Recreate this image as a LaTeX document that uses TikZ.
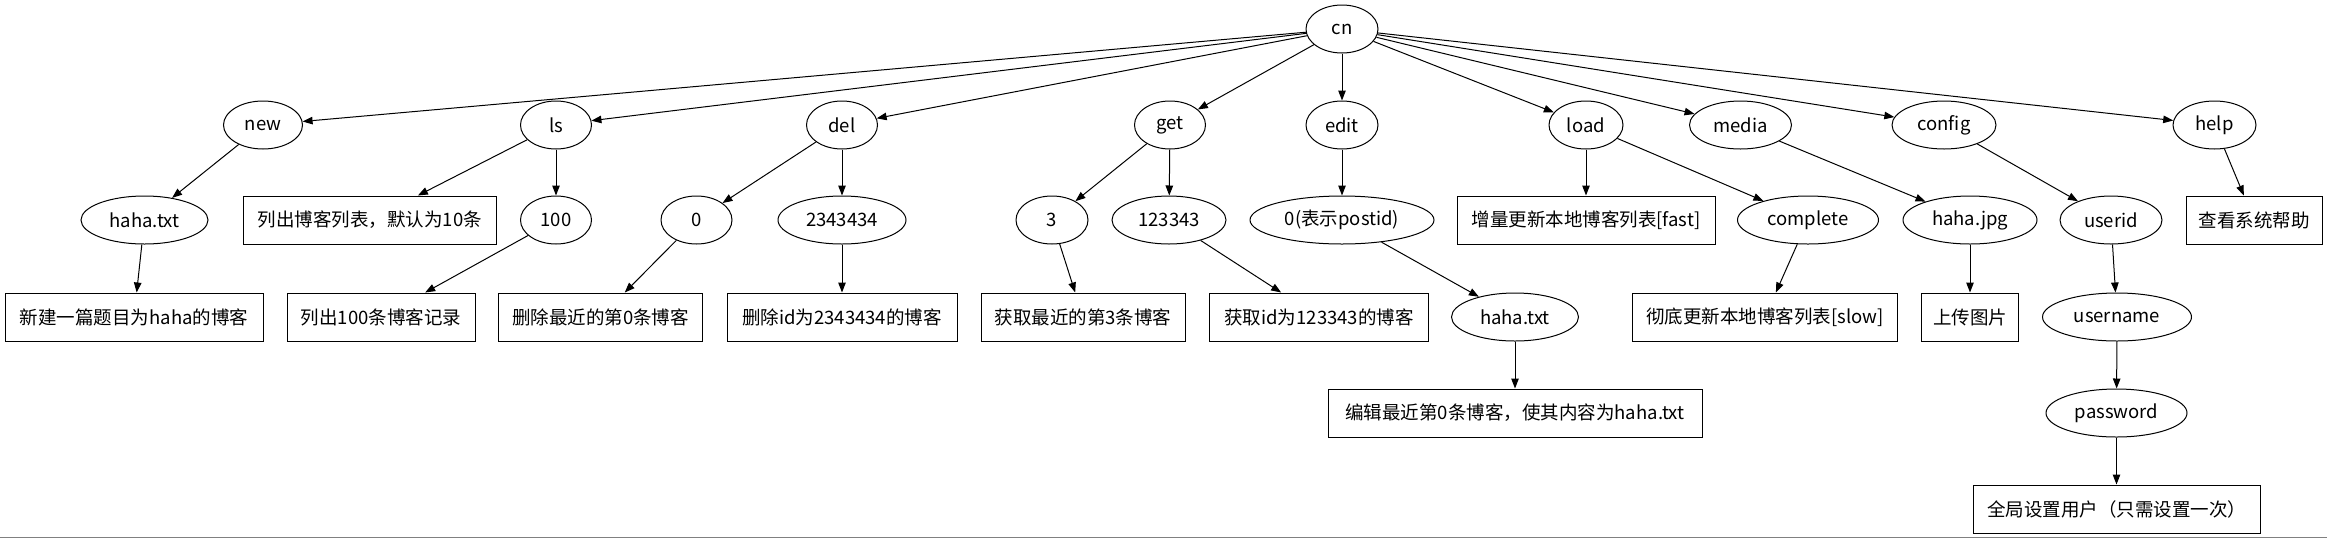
\documentclass[tikz,border=0pt]{standalone}
\usepackage{fontspec}
\setmainfont{Noto Sans CJK SC}
\usetikzlibrary{shapes.geometric,arrows.meta}
\begin{document}
\begin{tikzpicture}[x=1pt,y=-1pt,
  every node/.style={font=\fontsize{18.5}{20}\selectfont, line width=1pt, draw, inner sep=0pt, minimum height=48pt},
  ell/.style={ellipse, minimum width=#1},
  ell/.default=72,
  bx/.style={rectangle, minimum width=#1},
  arr/.style={line width=1pt, -{Triangle[length=10pt,width=7.5pt]}}
]
\useasboundingbox (0,0) rectangle (2327,539);
\draw[gray, line width=1.2pt] (0,537.5) -- (2327,537.5);
% root
\node[ell=72] (cn) at (1342,29) {cn};
% row 1
\node[ell=79] (new) at (263,125) {new};
\node[ell=71] (ls) at (556,125) {ls};
\node[ell=71] (del) at (842,125) {del};
\node[ell=71] (get) at (1170,125) {get};
\node[ell=72] (edit) at (1342,125) {edit};
\node[ell=74] (load) at (1586,125) {load};
\node[ell=102] (media) at (1740.5,125) {media};
\node[ell=104] (config) at (1944,125) {config};
\node[ell=83] (help) at (2214.5,125) {help};
% row 2
\node[ell=127] (hahatxtA) at (144.5,220) {haha.txt};
\node[bx=253] (bls10) at (370,220) {列出博客列表，默认为10条};
\node[ell=71] (n100) at (556,220) {100};
\node[ell=71] (n0) at (696.5,220) {0};
\node[ell=128] (n2343434) at (842,220) {2343434};
\node[ell=72] (n3) at (1052,220) {3};
\node[ell=114] (n123343) at (1169,220) {123343};
\node[ell=184] (postid) at (1342,220) {0(表示postid)};
\node[bx=258] (bfast) at (1586,220) {增量更新本地博客列表[fast]};
\node[ell=141] (complete) at (1808,220) {complete};
\node[ell=134] (hahajpg) at (1970,220) {haha.jpg};
\node[ell=102] (userid) at (2111,220) {userid};
\node[bx=136] (bhelp) at (2254,220) {查看系统帮助};
% row 3
\node[bx=258] (bnew) at (134,317) {新建一篇题目为haha的博客};
\node[bx=188] (bls100) at (381,317) {列出100条博客记录};
\node[bx=204] (bdel0) at (600.5,317) {删除最近的第0条博客};
\node[bx=230] (bdelid) at (842,317) {删除id为2343434的博客};
\node[bx=204] (bget3) at (1083,317) {获取最近的第3条博客};
\node[bx=219] (bgetid) at (1319,317) {获取id为123343的博客};
\node[ell=127] (hahatxtB) at (1515,317) {haha.txt};
\node[bx=265] (bslow) at (1765,317) {彻底更新本地博客列表[slow]};
\node[bx=97] (bupload) at (1970,317) {上传图片};
\node[ell=149] (username) at (2117,317) {username};
% row 4
\node[bx=374] (bedit) at (1515,413) {编辑最近第0条博客，使其内容为haha.txt};
\node[ell=141] (password) at (2116.5,413) {password};
% row 5
\node[bx=287] (bconfig) at (2116.5,509) {全局设置用户（只需设置一次）};
% edges
\foreach \t in {new,ls,del,get,edit,load,media,config,help}
  \draw[arr] (cn) -- (\t);
\draw[arr] (new) -- (hahatxtA);
\draw[arr] (hahatxtA) -- (bnew);
\draw[arr] (ls) -- (bls10);
\draw[arr] (ls) -- (n100);
\draw[arr] (n100) -- (bls100);
\draw[arr] (del) -- (n0);
\draw[arr] (del) -- (n2343434);
\draw[arr] (n0) -- (bdel0);
\draw[arr] (n2343434) -- (bdelid);
\draw[arr] (get) -- (n3);
\draw[arr] (get) -- (n123343);
\draw[arr] (n3) -- (bget3);
\draw[arr] (n123343) -- (bgetid);
\draw[arr] (edit) -- (postid);
\draw[arr] (postid) -- (hahatxtB);
\draw[arr] (hahatxtB) -- (bedit);
\draw[arr] (load) -- (bfast);
\draw[arr] (load) -- (complete);
\draw[arr] (complete) -- (bslow);
\draw[arr] (media) -- (hahajpg);
\draw[arr] (hahajpg) -- (bupload);
\draw[arr] (config) -- (userid);
\draw[arr] (userid) -- (username);
\draw[arr] (username) -- (password);
\draw[arr] (password) -- (bconfig);
\draw[arr] (help) -- (bhelp);
\end{tikzpicture}
\end{document}
